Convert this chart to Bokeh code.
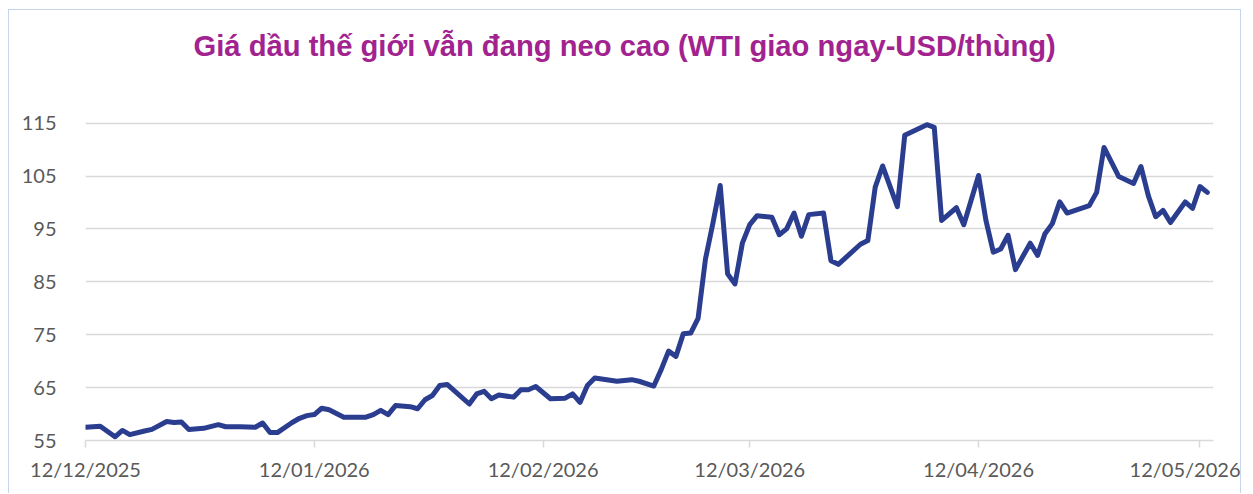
from datetime import datetime
import pandas as pd
from bokeh.plotting import figure
from bokeh.models import Range1d, FixedTicker, DatetimeTickFormatter, ColumnDataSource
from bokeh.embed import file_html
from bokeh.resources import INLINE

title_text = "Giá dầu thế giới vẫn đang neo cao (WTI giao ngay-USD/thùng)"

dates = [
    "2025-12-12", "2025-12-14", "2025-12-16", "2025-12-17", "2025-12-18", "2025-12-20",
    "2025-12-21", "2025-12-23", "2025-12-24", "2025-12-25", "2025-12-26", "2025-12-28",
    "2025-12-30", "2025-12-31", "2026-01-02", "2026-01-04", "2026-01-05", "2026-01-06",
    "2026-01-07", "2026-01-09", "2026-01-10", "2026-01-11", "2026-01-12", "2026-01-13",
    "2026-01-14", "2026-01-16", "2026-01-19", "2026-01-20", "2026-01-21", "2026-01-22",
    "2026-01-23", "2026-01-25", "2026-01-26", "2026-01-27", "2026-01-28", "2026-01-29",
    "2026-01-30", "2026-02-02", "2026-02-03", "2026-02-04", "2026-02-05", "2026-02-06",
    "2026-02-08", "2026-02-09", "2026-02-10", "2026-02-11", "2026-02-13", "2026-02-15",
    "2026-02-16", "2026-02-17", "2026-02-18", "2026-02-19", "2026-02-22", "2026-02-24",
    "2026-02-25", "2026-02-27", "2026-02-28", "2026-03-01", "2026-03-02", "2026-03-03",
    "2026-03-04", "2026-03-05", "2026-03-06", "2026-03-07", "2026-03-08", "2026-03-09",
    "2026-03-10", "2026-03-11", "2026-03-12", "2026-03-13", "2026-03-15", "2026-03-16",
    "2026-03-17", "2026-03-18", "2026-03-19", "2026-03-20", "2026-03-22", "2026-03-23",
    "2026-03-24", "2026-03-27", "2026-03-28", "2026-03-29", "2026-03-30", "2026-04-01",
    "2026-04-02", "2026-04-05", "2026-04-06", "2026-04-07", "2026-04-09", "2026-04-10",
    "2026-04-12", "2026-04-13", "2026-04-14", "2026-04-15", "2026-04-16", "2026-04-17",
    "2026-04-19", "2026-04-20", "2026-04-21", "2026-04-22", "2026-04-23", "2026-04-24",
    "2026-04-27", "2026-04-28", "2026-04-29", "2026-05-01", "2026-05-03", "2026-05-04",
    "2026-05-05", "2026-05-06", "2026-05-07", "2026-05-08", "2026-05-10", "2026-05-11",
    "2026-05-12", "2026-05-13",
]

prices = [
    57.5, 57.7, 55.7, 56.9, 56.1, 56.8,
    57.1, 58.6, 58.4, 58.5, 57.1, 57.3,
    58.0, 57.6, 57.6, 57.5, 58.3, 56.5,
    56.5, 58.4, 59.2, 59.7, 59.9, 61.1,
    60.8, 59.4, 59.4, 59.9, 60.7, 59.9,
    61.6, 61.4, 61.0, 62.7, 63.5, 65.4,
    65.6, 61.9, 63.8, 64.3, 62.9, 63.6,
    63.2, 64.6, 64.6, 65.2, 62.9, 63.0,
    63.8, 62.2, 65.4, 66.8, 66.2, 66.5,
    66.2, 65.3, 68.4, 71.9, 70.9, 75.2,
    75.3, 78.1, 89.3, 96.0, 103.2, 86.5,
    84.6, 92.3, 95.8, 97.5, 97.2, 93.9,
    95.0, 98.0, 93.6, 97.7, 98.0, 89.0,
    88.3, 92.1, 92.8, 102.9, 106.9, 99.2,
    112.7, 114.7, 114.2, 96.6, 99.0, 95.8,
    105.1, 96.6, 90.6, 91.2, 93.8, 87.3,
    92.3, 90.0, 94.1, 96.0, 100.1, 98.0,
    99.4, 101.9, 110.4, 104.9, 103.6, 106.8,
    101.3, 97.3, 98.5, 96.2, 100.1, 98.9,
    103.0, 101.9,
]

tick_dates = ["2025-12-12", "2026-01-12", "2026-02-12", "2026-03-12", "2026-04-12", "2026-05-12"]
y_ticks = [55, 65, 75, 85, 95, 105, 115]

src = ColumnDataSource(dict(x=pd.to_datetime(dates), y=prices))

border_css = "1px solid #c6d5ee"
p = figure(
    width=1233, height=484, x_axis_type="datetime",
    output_backend="svg", toolbar_location=None,
    x_range=Range1d(datetime(2025, 12, 12), datetime(2026, 5, 13, 20)),
    y_range=Range1d(55, 125.7),
    min_border_left=76, min_border_right=29, min_border_top=56, min_border_bottom=54,
    styles={"margin-left": "8px", "margin-top": "9px",
            "border-left": border_css, "border-top": border_css, "border-right": border_css},
)
p.outline_line_color = None
p.background_fill_color = "white"
p.border_fill_color = "white"

p.title.text = title_text
p.title.align = "left"
p.title.offset = 108
p.title.text_font = "Liberation Sans"
p.title.text_font_style = "bold"
p.title.text_font_size = "29.2px"
p.title.text_color = "#a2238f"

p.line("x", "y", source=src, line_color="#2b3d8f", line_width=5, line_join="round", line_cap="round")

# x axis
xa = p.xaxis[0]
xa.ticker = FixedTicker(ticks=[pd.Timestamp(d).timestamp() * 1000 for d in tick_dates])
xa.formatter = DatetimeTickFormatter(
    milliseconds="%d/%m/%Y", seconds="%d/%m/%Y", minsec="%d/%m/%Y", minutes="%d/%m/%Y",
    hourmin="%d/%m/%Y", hours="%d/%m/%Y", days="%d/%m/%Y", months="%d/%m/%Y", years="%d/%m/%Y",
)
xa.axis_line_color = "#d9d9d9"
xa.axis_line_width = 1.5
xa.major_tick_line_color = "#d9d9d9"
xa.major_tick_line_width = 1.5
xa.major_tick_out = 7
xa.major_tick_in = 0
xa.minor_tick_line_color = None
xa.major_label_text_font = "Lato"
xa.major_label_text_font_size = "20px"
xa.major_label_text_color = "#595959"
xa.major_label_standoff = 9

# y axis
ya = p.yaxis[0]
ya.ticker = FixedTicker(ticks=y_ticks)
ya.axis_line_color = None
ya.major_tick_line_color = None
ya.minor_tick_line_color = None
ya.major_label_text_font = "Lato"
ya.major_label_text_font_size = "20px"
ya.major_label_text_color = "#595959"
ya.major_label_standoff = 23

p.xgrid.grid_line_color = None
p.ygrid.grid_line_color = "#d9d9d9"
p.ygrid.grid_line_width = 1.5

open("out.html", "w").write(file_html(p, INLINE))
